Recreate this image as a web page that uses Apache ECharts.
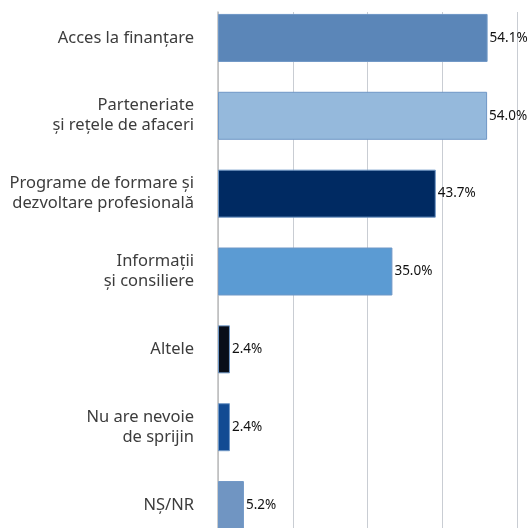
<!DOCTYPE html>
<html>
<head>
<meta charset="utf-8">
<script src="https://cdn.jsdelivr.net/npm/echarts@6/dist/echarts.min.js"></script>
<style>
  html, body { margin: 0; padding: 0; background: #ffffff; }
  #chart { width: 529px; height: 528px; }
</style>
</head>
<body>
<div id="chart"></div>
<script>
// Tipuri de sprijin solicitate (% respondenți)
const categories = [
  'Acces la finanțare',
  'Parteneriate\nși rețele de afaceri',
  'Programe de formare și\ndezvoltare profesională',
  'Informații\nși consiliere',
  'Altele',
  'Nu are nevoie\nde sprijin',
  'NȘ/NR'
];
const values = [54.1, 54.0, 43.7, 35.0, 2.4, 2.4, 5.2];

// Culoare pentru fiecare bară
const barColors = ['#5b86b8', '#95b9dc', '#002a62', '#5b9bd3', '#080d18', '#124b93', '#7095c2'];

const chart = echarts.init(document.getElementById('chart'), null, { renderer: 'canvas' });

const axisMax = 60;
const axisStep = 15;

chart.setOption({
  animation: false,
  grid: [
    // grila de fundal: liniile verticale și axa
    { left: 218, width: 299, top: 12, bottom: 0, outerBoundsMode: 'none' },
    // barele (ultima categorie continuă sub marginea de jos)
    { left: 218, width: 299, top: -1, height: 545, outerBoundsMode: 'none' }
  ],
  xAxis: [
    {
      gridIndex: 0, type: 'value', min: 0, max: axisMax, interval: axisStep,
      axisLine: { show: false }, axisTick: { show: false }, axisLabel: { show: false },
      splitLine: { show: true, lineStyle: { color: '#c9cdd3', width: 1 } }
    },
    {
      gridIndex: 1, type: 'value', min: 0, max: axisMax, interval: axisStep,
      axisLine: { show: false }, axisTick: { show: false }, axisLabel: { show: false },
      splitLine: { show: false }
    }
  ],
  yAxis: [
    {
      gridIndex: 0, type: 'value', min: 0, max: 1,
      axisLine: { show: true, onZero: false, lineStyle: { color: '#bdbdbd', width: 1.5 } },
      axisTick: { show: false }, axisLabel: { show: false }, splitLine: { show: false }
    },
    {
      gridIndex: 1, type: 'category', inverse: true, data: categories,
      axisLine: { show: false }, axisTick: { show: false },
      axisLabel: {
        margin: 24, fontSize: 16.5, lineHeight: 20, color: '#3c3c3c',
        fontFamily: 'Noto Sans', align: 'right'
      }
    }
  ],
  series: [
    {
      type: 'bar',
      xAxisIndex: 1, yAxisIndex: 1,
      barWidth: 48,
      data: values.map((v, i) => ({
        value: v,
        itemStyle: { color: barColors[i] }
      })),
      itemStyle: { borderColor: '#6f97c6', borderWidth: 1 },
      label: {
        show: true, position: 'right', distance: 2,
        fontSize: 13.5, color: '#111111', fontFamily: 'Noto Sans',
        formatter: p => p.value.toFixed(1) + '%'
      }
    }
  ]
});
</script>
</body>
</html>
